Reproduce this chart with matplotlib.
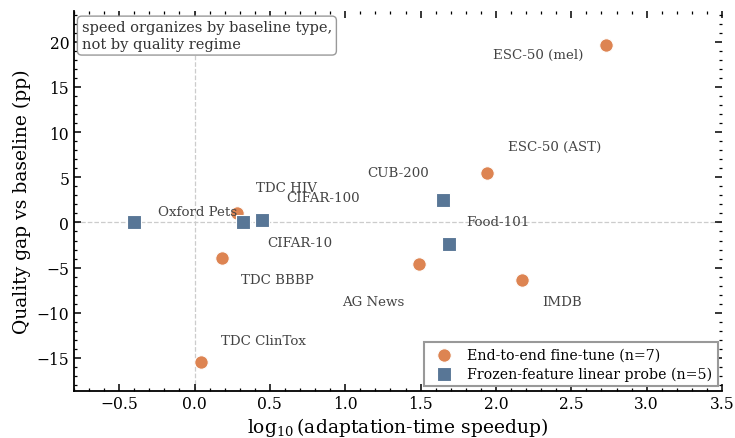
import matplotlib
matplotlib.use("Agg")
import matplotlib.pyplot as plt

plt.rcParams['font.family'] = ['DejaVu Serif']
plt.rcParams['mathtext.fontset'] = 'dejavuserif'

# End-to-end fine-tune
e2e_names = ["ESC-50 (mel)", "ESC-50 (AST)", "AG News", "IMDB", "TDC BBBP", "TDC ClinTox", "TDC HIV"]
e2e_x = [2.73, 1.94, 1.49, 2.17, 0.18, 0.04, 0.28]
e2e_y = [19.6, 5.5, -4.6, -6.4, -3.9, -15.5, 1.0]
e2e_lx = [2.28, 2.39, 1.185, 2.44, 0.55, 0.46, 0.61]
e2e_ly = [18.55, 8.4, -8.7, -8.8, -6.3, -13.1, 3.9]

# Frozen-feature linear probe
lp_names = ["Oxford Pets", "CIFAR-10", "CIFAR-100", "CUB-200", "Food-101"]
lp_x = [-0.40, 0.32, 0.45, 1.65, 1.69]
lp_y = [0.0, 0.0, 0.3, 2.5, -2.4]
lp_lx = [0.02, 0.70, 0.85, 1.35, 2.01]
lp_ly = [1.2, -2.25, 2.73, 5.5, 0.08]

orange = "#DD8452"
blue = "#587696"

fig = plt.figure(figsize=(7.35, 4.39), dpi=100)
ax = fig.add_axes([74/735, 1 - 391.5/439, (722-74)/735, (391.5-12)/439])

ax.axhline(0, color="#cccccc", lw=0.9, ls="--", zorder=1)
ax.axvline(0, color="#cccccc", lw=0.9, ls="--", zorder=1)

ax.scatter(e2e_x, e2e_y, s=95, c=orange, marker="o", edgecolors="white", linewidths=0.8,
           zorder=3, label="End-to-end fine-tune (n=7)")
ax.scatter(lp_x, lp_y, s=95, c=blue, marker="s", edgecolors="white", linewidths=0.8,
           zorder=3, label="Frozen-feature linear probe (n=5)")

for n, x, y in zip(e2e_names, e2e_lx, e2e_ly):
    ax.text(x, y, n, fontsize=9.6, color="#444444", ha="center", va="center", zorder=4)
for n, x, y in zip(lp_names, lp_lx, lp_ly):
    ax.text(x, y, n, fontsize=9.6, color="#444444", ha="center", va="center", zorder=4)

ax.set_xlim(-0.8, 3.5)
ax.set_ylim(-18.6, 23.4)
ax.set_xlabel(r"$\log_{10}$(adaptation-time speedup)", fontsize=13.5, labelpad=2)
ax.set_ylabel("Quality gap vs baseline (pp)", fontsize=13.5, labelpad=4)

ax.spines["top"].set_visible(False)
ax.spines["right"].set_visible(False)
ax.spines["left"].set_linewidth(1.3)
ax.spines["bottom"].set_linewidth(1.3)
ax.minorticks_on()
ax.tick_params(which="both", direction="in", top=True, right=True, labelsize=11.2)
ax.tick_params(which="major", length=5, width=1.1)
ax.tick_params(which="minor", length=2.5, width=0.9)

ax.text(0.012, 0.975, "speed organizes by baseline type,\nnot by quality regime", transform=ax.transAxes,
        fontsize=10.5, color="#333333", ha="left", va="top",
        bbox=dict(boxstyle="round,pad=0.3", fc="white", ec="#999999", lw=1.0))

leg = ax.legend(loc="lower right", fontsize=10.2, frameon=True, fancybox=False,
                edgecolor="#999999", framealpha=1, borderpad=0.4, handletextpad=0.6,
                borderaxespad=0.3, labelspacing=0.3)
leg.get_frame().set_linewidth(1.5)

fig.savefig("out.png", dpi=100)
